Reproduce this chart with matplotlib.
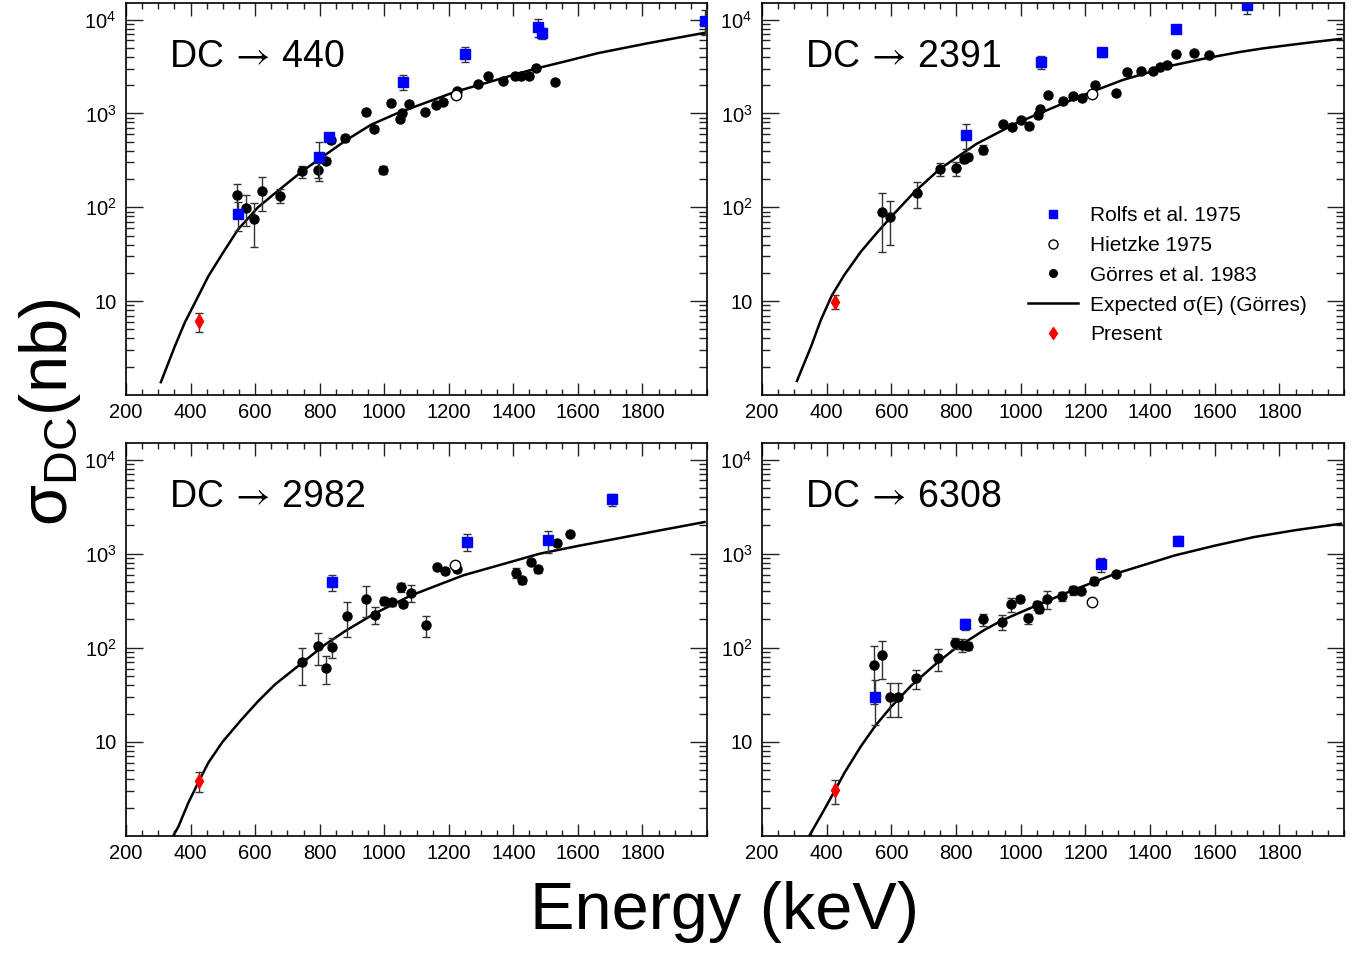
import matplotlib
matplotlib.use("Agg")
import matplotlib.pyplot as plt
from matplotlib.lines import Line2D
from matplotlib.ticker import MultipleLocator, LogLocator, NullFormatter

plt.rcParams['font.family'] = ['Liberation Sans', 'DejaVu Sans']
plt.rcParams['mathtext.fontset'] = 'custom'
plt.rcParams['mathtext.rm'] = 'Liberation Sans'
plt.rcParams['mathtext.it'] = 'Liberation Sans:italic'

# ---------------- DC -> 440 ----------------
rolfs_440_E = [548, 797, 829, 1057, 1251, 1476, 1488, 1995]
rolfs_440_s = [85, 340, 556, 2170, 4310, 8360, 7160, 9760]
rolfs_440_err = [29, 150, 50, 380, 820, 1800, 900, 3000]
hietzke_440_E = [1221]
hietzke_440_s = [1582]
gorres_440_E = [543, 571, 596, 622, 676, 746, 796, 820, 834, 880, 942, 969, 996, 1020, 1050,
                1055, 1078, 1126, 1159, 1183, 1224, 1291, 1323, 1367, 1404, 1424, 1448, 1470, 1528]
gorres_440_s = [136, 99, 75, 150, 133, 242, 249, 313, 525, 550, 1033, 687, 252, 1288, 870,
                1000, 1256, 1043, 1236, 1321, 1736, 2037, 2494, 2240, 2480, 2480, 2480, 3035, 2154]
gorres_440_err = [42, 36, 37, 58, 22, 35, 45, 20, 40, 40, 60, 40, 25, 60, 50,
                  50, 60, 50, 50, 50, 70, 70, 90, 90, 90, 90, 90, 100, 90]
present_440_E = [426]
present_440_s = [6.1]
present_440_err = [1.4]
curve_440_E = [308, 352, 382, 416, 455, 496, 547, 609, 671, 746, 880, 960, 1044, 1220, 1467,
               1560, 1663, 1746, 1818, 1900, 1993]
curve_440_s = [1.37, 3.35, 5.9, 10, 18.4, 31, 58, 100, 150, 242, 513, 760, 1016, 1700, 2985,
               3575, 4390, 5000, 5600, 6310, 7220]

# ---------------- DC -> 2391 ----------------
rolfs_2391_E = [830, 1063, 1252, 1479, 1701]
rolfs_2391_s = [593, 3547, 4455, 7893, 14440]
rolfs_2391_err = [176, 540, 500, 700, 2900]
hietzke_2391_E = [1220]
hietzke_2391_s = [1607]
gorres_2391_E = [571, 597, 678, 750, 799, 824, 838, 884, 945, 973, 1000, 1025, 1053, 1061, 1086,
                 1132, 1163, 1190, 1229, 1296, 1330, 1372, 1410, 1430, 1454, 1479, 1535, 1581]
gorres_2391_s = [88.6, 78, 143, 256, 262, 324, 343, 410, 764, 716, 857, 728, 953, 1104, 1553,
                 1353, 1517, 1445, 2018, 1660, 2754, 2845, 2820, 3111, 3245, 4277, 4413, 4140]
gorres_2391_err = [55, 38, 45, 43, 45, 25, 25, 45, 40, 40, 40, 40, 50, 50, 70,
                   60, 60, 60, 80, 70, 100, 100, 100, 100, 100, 120, 120, 120]
present_2391_E = [426]
present_2391_s = [9.9]
present_2391_err = [1.6]
curve_2391_E = [308, 352, 382, 416, 455, 506, 558, 609, 671, 750, 864, 987, 1109, 1212, 1315,
                1470, 1570, 1676, 1750, 1831, 1910, 1991]
curve_2391_s = [1.41, 3.3, 6.3, 11.5, 19.1, 33.7, 54.8, 85.8, 145, 256, 475, 788, 1186, 1660, 2265,
                3245, 3850, 4500, 4930, 5350, 5780, 6225]

# ---------------- DC -> 2982 ----------------
rolfs_2982_E = [838, 1255, 1507, 1705]
rolfs_2982_s = [501, 1340, 1384, 3800]
rolfs_2982_err = [95, 260, 370, 550]
hietzke_2982_E = [1220]
hietzke_2982_s = [752]
gorres_2982_E = [746, 796, 820, 837, 884, 942, 970, 999, 1024, 1051, 1057, 1083, 1129, 1163,
                 1188, 1227, 1409, 1428, 1454, 1475, 1534, 1575]
gorres_2982_s = [70, 105, 61, 102, 220, 330, 225, 318, 303, 444, 293, 386, 174, 716,
                 661, 682, 629, 521, 822, 682, 1297, 1603]
gorres_2982_err = [30, 40, 20, 25, 90, 120, 45, 30, 25, 50, 25, 80, 45, 50,
                   50, 40, 80, 40, 40, 60, 80, 80]
present_2982_E = [426]
present_2982_s = [3.83]
present_2982_err = [0.9]
curve_2982_E = [346, 362, 393, 426, 455, 499, 558, 609, 661, 712, 764, 815, 877, 970, 1083,
                1245, 1482, 1600, 1719, 1850, 1992]
curve_2982_s = [1.0, 1.25, 2.25, 3.83, 6.0, 10, 17.3, 27, 40.6, 56, 77.6, 107, 149, 231, 360,
                589, 1000, 1208, 1443, 1758, 2168]

# ---------------- DC -> 6308 ----------------
rolfs_6308_E = [549, 829, 1248, 1487]
rolfs_6308_s = [30, 178, 776, 1375]
rolfs_6308_err = [15, 25, 130, 150]
hietzke_6308_E = [1221]
hietzke_6308_s = [308]
gorres_6308_E = [547, 570, 596, 620, 675, 745, 796, 820, 836, 884, 943, 970, 998, 1022, 1050,
                 1058, 1082, 1128, 1161, 1188, 1227, 1294]
gorres_6308_s = [65.5, 83, 30.3, 30.3, 47.3, 77, 112, 108, 104, 200, 189, 290, 333, 205, 283,
                 261, 331, 353, 408, 402, 513, 614]
gorres_6308_err = [40, 36, 12, 12, 11, 20, 16, 17, 10, 30, 35, 50, 25, 25, 30,
                   25, 75, 40, 40, 30, 50, 30]
present_6308_E = [426]
present_6308_s = [3.07]
present_6308_err = [0.9]
curve_6308_E = [346, 393, 426, 455, 506, 551, 599, 661, 743, 795, 888, 943, 1050, 1162, 1294,
                1477, 1600, 1722, 1850, 1991]
curve_6308_s = [1.0, 1.92, 3.07, 4.69, 9.0, 14.9, 23.5, 39.5, 70, 96.8, 155, 196, 283, 410, 614,
                959, 1216, 1503, 1778, 2080]

x_ticks = [200, 400, 600, 800, 1000, 1200, 1400, 1600, 1800]
y_ticks = [10, 100, 1000, 10000]
y_ticklabels = ['10', '$10^{2}$', '$10^{3}$', '$10^{4}$']

W, H = 1369, 956
ERR_COLOR = '#333333'


def draw_panel(ax, label, rolfs, hietzke, gorres, present, curve):
    # expected curve first, then data on top
    ax.plot(curve[0], curve[1], color='black', lw=1.8, zorder=2)
    ax.errorbar(gorres[0], gorres[1], yerr=gorres[2], fmt='o', color='black', ms=6.5,
                ecolor=ERR_COLOR, elinewidth=1, capsize=3, zorder=3)
    ax.plot(hietzke[0], hietzke[1], 'o', mfc='white', mec='black', mew=1, ms=7.5, zorder=4)
    ax.errorbar(rolfs[0], rolfs[1], yerr=rolfs[2], fmt='s', color='blue', ms=6.5,
                ecolor=ERR_COLOR, elinewidth=1, capsize=3, zorder=5)
    ax.errorbar(present[0], present[1], yerr=present[2], fmt='d', color='red', ms=7.5,
                ecolor=ERR_COLOR, elinewidth=1, capsize=3, zorder=6)

    ax.set_yscale('log')
    ax.set_xlim(200, 2000)
    ax.set_ylim(1, 15000)
    ax.set_xticks(x_ticks)
    ax.xaxis.set_minor_locator(MultipleLocator(50))
    ax.set_yticks(y_ticks, labels=y_ticklabels)
    ax.yaxis.set_minor_locator(LogLocator(base=10, subs=range(2, 10), numticks=20))
    ax.yaxis.set_minor_formatter(NullFormatter())
    ax.tick_params(which='both', direction='in', top=True, right=True, labelsize=14.5,
                   color='#222222')
    ax.tick_params(axis='x', which='major', length=9, width=1, pad=6)
    ax.tick_params(axis='x', which='minor', length=4.5, width=1)
    ax.tick_params(axis='y', which='major', length=12, width=1, pad=7)
    ax.tick_params(axis='y', which='minor', length=6, width=1)
    for sp in ax.spines.values():
        sp.set_linewidth(1.2)
    # arrow taken from STIX sans so it is as long as in the original
    ax.text(0.074, 0.862, label, transform=ax.transAxes, fontsize=27,
            ha='left', va='center', math_fontfamily='stixsans')


fig = plt.figure(figsize=(W / 100, H / 100), dpi=100)

panels = [
    ((126, 3, 707, 395), 'DC$\\:\\rightarrow\\:$440',
     (rolfs_440_E, rolfs_440_s, rolfs_440_err), (hietzke_440_E, hietzke_440_s),
     (gorres_440_E, gorres_440_s, gorres_440_err), (present_440_E, present_440_s, present_440_err),
     (curve_440_E, curve_440_s)),
    ((762, 3, 1344, 395), 'DC$\\:\\rightarrow\\:$2391',
     (rolfs_2391_E, rolfs_2391_s, rolfs_2391_err), (hietzke_2391_E, hietzke_2391_s),
     (gorres_2391_E, gorres_2391_s, gorres_2391_err), (present_2391_E, present_2391_s, present_2391_err),
     (curve_2391_E, curve_2391_s)),
    ((126, 443, 707, 836), 'DC$\\:\\rightarrow\\:$2982',
     (rolfs_2982_E, rolfs_2982_s, rolfs_2982_err), (hietzke_2982_E, hietzke_2982_s),
     (gorres_2982_E, gorres_2982_s, gorres_2982_err), (present_2982_E, present_2982_s, present_2982_err),
     (curve_2982_E, curve_2982_s)),
    ((762, 443, 1344, 836), 'DC$\\:\\rightarrow\\:$6308',
     (rolfs_6308_E, rolfs_6308_s, rolfs_6308_err), (hietzke_6308_E, hietzke_6308_s),
     (gorres_6308_E, gorres_6308_s, gorres_6308_err), (present_6308_E, present_6308_s, present_6308_err),
     (curve_6308_E, curve_6308_s)),
]

axes = []
for (x0, y0, x1, y1), label, rolfs, hietzke, gorres, present, curve in panels:
    ax = fig.add_axes([x0 / W, 1 - y1 / H, (x1 - x0) / W, (y1 - y0) / H])
    draw_panel(ax, label, rolfs, hietzke, gorres, present, curve)
    axes.append(ax)

# legend in the top-right panel
handles = [
    Line2D([], [], ls='none', marker='s', color='blue', ms=5.5),
    Line2D([], [], ls='none', marker='o', mfc='white', mec='black', mew=1, ms=6.5),
    Line2D([], [], ls='none', marker='o', color='black', ms=5.5),
    Line2D([], [], color='black', lw=1.8),
    Line2D([], [], ls='none', marker='d', color='red', ms=6.5),
]
labels = ['Rolfs et al. 1975', 'Hietzke 1975', 'Görres et al. 1983',
          'Expected σ(E) (Görres)', 'Present']
axes[1].legend(handles, labels, loc='upper left', bbox_to_anchor=(0.457, 0.482),
               frameon=False, fontsize=15, borderpad=0, borderaxespad=0,
               handlelength=2.4, handletextpad=0.6, labelspacing=0.52)

fig.text(50 / W, 1 - 412 / H, 'σ$_{\\mathrm{DC}}$(nb)', rotation=90,
         ha='center', va='center', fontsize=48)
fig.text(725 / W, 1 - 912 / H, 'Energy (keV)', ha='center', va='center', fontsize=48)

fig.savefig('out.png', dpi=100)
